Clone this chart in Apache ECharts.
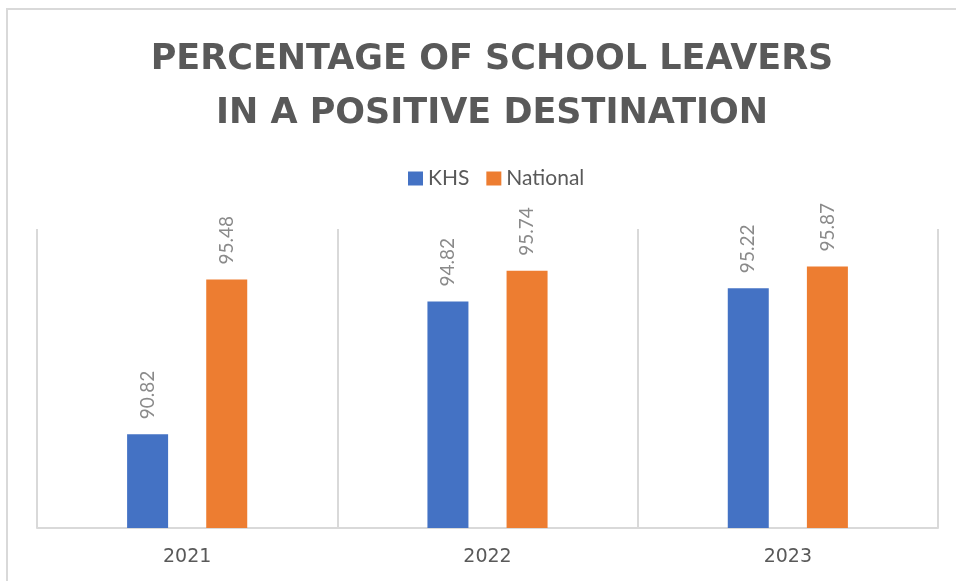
<!DOCTYPE html>
<html>
<head>
<meta charset="utf-8">
<script src="https://cdn.jsdelivr.net/npm/echarts@6/dist/echarts.min.js"></script>
<style>
html,body{margin:0;padding:0;background:#fff;overflow:hidden;}
#frame{position:absolute;left:6px;top:8px;width:1000px;height:700px;border-left:2px solid #d9d9d9;border-top:2px solid #d9d9d9;box-sizing:border-box;}
#chart{position:absolute;left:0;top:0;width:956px;height:581px;}
</style>
</head>
<body>
<div id="frame"></div>
<div id="chart"></div>
<script>
var titleText = 'PERCENTAGE OF SCHOOL LEAVERS\nIN A POSITIVE DESTINATION';
var categories = ['2021', '2022', '2023'];
var seriesNames = ['KHS', 'National'];
var khsValues = [90.82, 94.82, 95.22];
var nationalValues = [95.48, 95.74, 95.87];
var yMin = 88;
var yMax = 97;

var chart = echarts.init(document.getElementById('chart'), null, {renderer: 'canvas'});
var labelStyle = {
  show: true,
  position: 'top',
  rotate: 90,
  align: 'left',
  verticalAlign: 'middle',
  distance: 15,
  color: '#8a8a8a',
  fontFamily: 'Lato',
  fontSize: 19,
  formatter: function (p) { return p.value.toFixed(2); }
};
chart.setOption({
  backgroundColor: 'transparent',
  animation: false,
  title: {
    text: titleText,
    left: 487,
    top: 28,
    textAlign: 'center',
    textStyle: {
      fontFamily: 'DejaVu Sans',
      fontWeight: 'bold',
      fontSize: 35,
      lineHeight: 54,
      color: '#595959'
    }
  },
  legend: {
    data: seriesNames,
    left: 403,
    top: 163,
    itemWidth: 15,
    itemHeight: 14,
    itemGap: 17,
    icon: 'rect',
    textStyle: {fontFamily: 'Lato', fontSize: 21, color: '#595959'}
  },
  grid: {left: 37, right: 18, top: 229, bottom: 53, containLabel: false},
  xAxis: {
    type: 'category',
    data: categories,
    axisLine: {lineStyle: {color: '#d9d9d9', width: 2}},
    axisTick: {show: false},
    splitLine: {show: true, lineStyle: {color: '#d9d9d9', width: 2}},
    axisLabel: {fontFamily: 'DejaVu Sans', fontSize: 19, color: '#595959', margin: 20}
  },
  yAxis: {
    type: 'value',
    min: yMin,
    max: yMax,
    show: false,
    splitLine: {show: false}
  },
  series: [
    {name: seriesNames[0], type: 'bar', data: khsValues, barWidth: 41, barGap: '93%',
     itemStyle: {color: '#4472C4'}, label: labelStyle},
    {name: seriesNames[1], type: 'bar', data: nationalValues, barWidth: 41, barGap: '93%',
     itemStyle: {color: '#ED7D31'}, label: labelStyle}
  ]
});
</script>
</body>
</html>
